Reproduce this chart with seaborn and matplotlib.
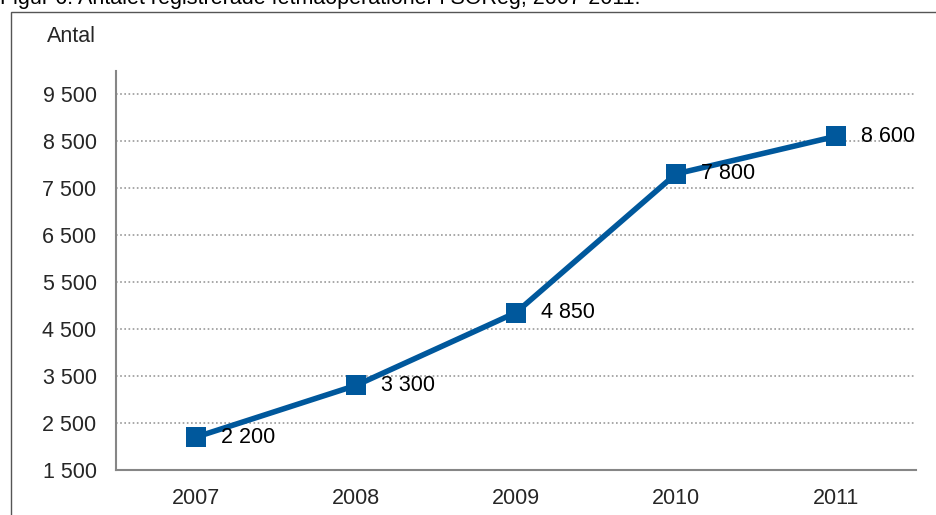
import matplotlib
matplotlib.use("Agg")
import matplotlib.pyplot as plt
from matplotlib.patches import Rectangle
from matplotlib.ticker import FixedLocator
import seaborn as sns
import pandas as pd

# Registered obesity operations per year
years = ["2007", "2008", "2009", "2010", "2011"]
counts = [2200, 3300, 4850, 7800, 8600]
y_ticks = [1500, 2500, 3500, 4500, 5500, 6500, 7500, 8500, 9500]

title = "Figur 6: Antalet registrerade fetmaoperationer i SOReg, 2007-2011."
y_title = "Antal"

sns.set_style("white")
plt.rcParams["font.family"] = ["Liberation Sans", "DejaVu Sans"]

W, H = 937, 515
fig = plt.figure(figsize=(W / 100, H / 100), dpi=100)

def fx(px):
    return px / W

def fy(py):
    return 1 - py / H

# Frame around the chart
fig.patches.append(Rectangle((fx(11), fy(530)), fx(960) - fx(11), fy(12) - fy(530),
                             transform=fig.transFigure, fill=False,
                             edgecolor="#555555", linewidth=1.0))

fig.text(0, fy(4), title, fontsize=15.5, va="baseline", ha="left", color="black")

ax = fig.add_axes([fx(116), fy(470), fx(916) - fx(116), (470 - 70.5) / H])

df = pd.DataFrame({"year": years, "count": counts})
df["pos"] = range(len(years))
blue = "#00589C"
sns.lineplot(data=df, x="pos", y="count", ax=ax, color=blue, linewidth=4.0,
             marker="s", markersize=14.5, markeredgewidth=0, markerfacecolor=blue)

for x, v in zip(df["pos"], counts):
    ax.annotate(f"{v:,}".replace(",", " "), (x, v), xytext=(18, 0),
                textcoords="offset points", va="center", ha="left",
                fontsize=15.5, color="black")

ax.set_xlim(-0.5, len(years) - 0.5)
ax.set_ylim(1500, 10000)
ax.set_yticks(y_ticks)
ax.set_yticklabels([f"{t:,}".replace(",", " ") for t in y_ticks], fontsize=15.5)
ax.set_xticks(range(len(years)))
ax.set_xticklabels(years, fontsize=15.5)
ax.xaxis.set_minor_locator(FixedLocator([i - 0.5 for i in range(len(years) + 1)]))
ax.tick_params(axis="x", which="major", length=0, pad=13)
ax.tick_params(axis="x", which="minor", length=6, width=1.5, color="#868686", direction="out")
ax.tick_params(axis="y", length=6, width=1.5, color="#868686", direction="out", pad=8)
ax.grid(axis="y", linestyle=(0, (1, 1.5)), color="#999999", linewidth=1.2)
ax.grid(axis="x", visible=False)
ax.set_axisbelow(True)

for s in ["top", "right"]:
    ax.spines[s].set_visible(False)
for s in ["left", "bottom"]:
    ax.spines[s].set_color("#868686")
    ax.spines[s].set_linewidth(1.5)

ax.set_xlabel("")
ax.set_ylabel("")
fig.text(fx(47), fy(37), y_title, fontsize=15.5, va="center", ha="left")

fig.savefig("out.png", dpi=100)
